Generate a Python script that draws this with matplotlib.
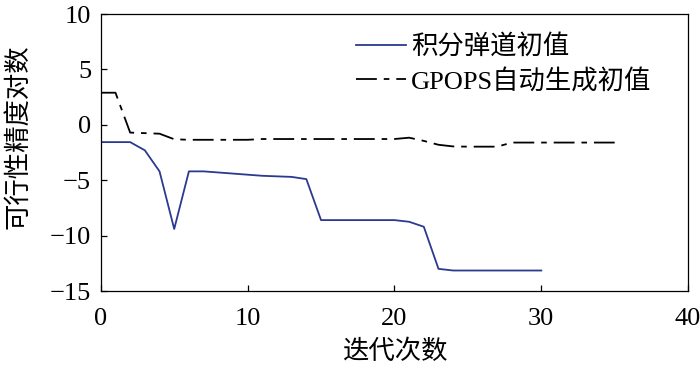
import matplotlib
matplotlib.use('Agg')
import matplotlib.pyplot as plt
import numpy as np

# 积分弹道初值 (blue line)
iter_a = list(range(0, 31))
val_a = [-1.56, -1.56, -1.56, -2.3, -4.2, -9.4, -4.2, -4.2, -4.3, -4.4,
         -4.5, -4.6, -4.65, -4.7, -4.9, -8.6, -8.6, -8.6, -8.6, -8.6,
         -8.6, -8.75, -9.2, -13.0, -13.15, -13.15, -13.15, -13.15, -13.15, -13.15,
         -13.15]

# GPOPS自动生成初值 (black dash-dot line)
iter_b = list(range(0, 36))
val_b = [2.9, 2.9, -0.7, -0.75, -0.8, -1.3, -1.35, -1.35, -1.35, -1.35,
         -1.35, -1.28, -1.28, -1.28, -1.28, -1.28, -1.28, -1.28, -1.28, -1.28,
         -1.28, -1.16, -1.45, -1.8, -1.95, -1.97, -1.97, -1.97, -1.6, -1.6,
         -1.6, -1.6, -1.6, -1.6, -1.6, -1.6]

labels = ['积分弹道初值', 'GPOPS自动生成初值']
xlabel = '迭代次数'
ylabel = '可行性精度对数'

plt.rcParams['font.family'] = ['Liberation Serif', 'Noto Sans CJK SC']
plt.rcParams['font.size'] = 19
plt.rcParams['lines.scale_dashes'] = False

fig = plt.figure(figsize=(7, 3.7), dpi=100)
ax = fig.add_axes([0.144, 0.2135, 0.839, 0.7485])

ax.plot(iter_a, val_a, color='#2B3990', lw=1.3, label=labels[0])
ax.plot(iter_b, val_b, color='black', lw=1.3, linestyle=(0, (15, 5, 4, 5)),
        label=labels[1])

ax.set_xlim(0, 40)
ax.set_ylim(-15, 10)
ax.set_xticks([0, 10, 20, 30, 40])
ax.set_yticks([-15, -10, -5, 0, 5, 10])
ax.tick_params(direction='in', length=4, width=0.9, top=False, right=False)
ax.tick_params(axis='x', pad=12)
ax.tick_params(axis='y', pad=7)
for s in ax.spines.values():
    s.set_linewidth(0.9)

ax.set_xlabel(xlabel, labelpad=7)
ax.set_ylabel(ylabel)
ax.yaxis.set_label_coords(-0.12, 0.556)

ax.legend(loc='upper left', bbox_to_anchor=(0.4, 1.0), frameon=False,
          handlelength=1.9, handletextpad=0.2, labelspacing=0.38,
          borderaxespad=0.35)

plt.savefig('out.png', dpi=100)
